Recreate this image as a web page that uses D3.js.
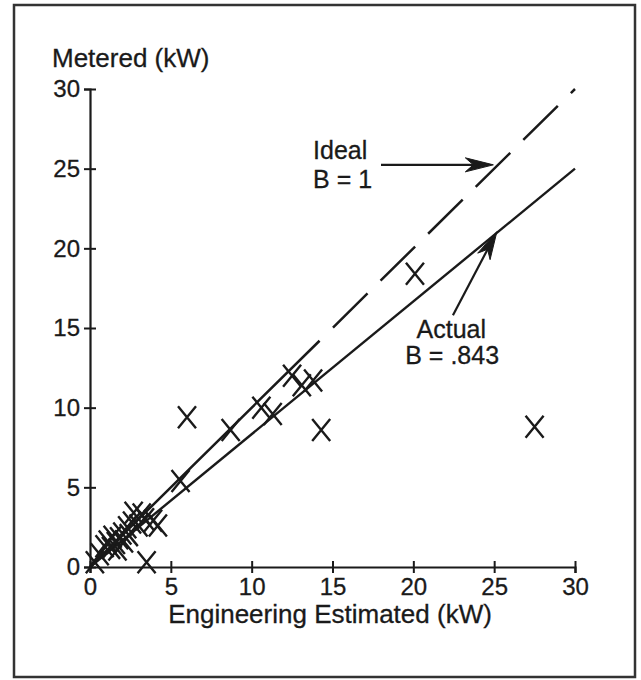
<!DOCTYPE html>
<html>
<head>
<meta charset="utf-8">
<script src="https://cdn.jsdelivr.net/npm/d3@7"></script>
<style>
  body { margin: 0; background: #fff; }
  svg text { font-family: "Liberation Sans", Arial, Helvetica, sans-serif; fill: #1a1a1a; stroke: #1a1a1a; stroke-width: 0.3px; }
</style>
</head>
<body>
<svg id="chart" width="641" height="680"></svg>
<script>
// axis ticks
var xTicks = [0, 5, 10, 15, 20, 25, 30]
var yTicks = [0, 5, 10, 15, 20, 25, 30]

// engineering estimate (kW) vs metered (kW)
var estimated = [
  0.3, 0.6, 0.9, 1.1, 1.3, 1.4, 1.6, 1.7, 1.8, 2.0, 2.1, 2.3, 2.4, 2.6, 2.7,
  3.0, 3.2, 3.4, 3.9, 4.2, 3.5, 5.6, 6.0, 8.7, 10.6, 11.3, 12.5, 13.1, 13.8,
  14.3, 20.1, 27.5
]
var metered = [
  0.3, 0.8, 1.3, 1.6, 1.2, 1.9, 1.5, 1.1, 1.8, 2.1, 1.6, 2.5, 2.0, 2.8, 3.4,
  2.6, 3.3, 3.0, 2.9, 2.6, 0.3, 5.4, 9.4, 8.6, 10.0, 9.6, 12.0, 11.4, 11.7,
  8.6, 18.4, 8.8
]

// fitted lines
var idealLine = [[0, 0], [30, 30]]     // B = 1
var actualLine = [[0, 0], [30, 25.0]]  // B = .843
var idealSolidTo = 14.2   // lower part of the ideal line is drawn solid
var idealDashFrom = 15.03

// annotations (data units)
var labels = [
  { text: 'Ideal', x: 13.8, y: 25.6 },
  { text: 'B = 1', x: 13.8, y: 23.8 },
  { text: 'Actual', x: 20.2, y: 14.4 },
  { text: 'B = .843', x: 19.5, y: 12.75 }
]
var arrows = [
  { from: [18.0, 25.24], to: [24.95, 25.24] },
  { from: [22.45, 15.8], to: [25.17, 21.05] }
]

var ink = '#1a1a1a'
var svg = d3.select('#chart')

// frame
svg.append('rect')
  .attr('x', 14).attr('y', 5).attr('width', 621).attr('height', 672)
  .attr('fill', 'none').attr('stroke', '#333').attr('stroke-width', 2.5)

var x = d3.scaleLinear().domain([0, 30]).range([90, 575])
var y = d3.scaleLinear().domain([0, 30]).range([567, 89])

// x axis
var gx = svg.append('g')
  .attr('transform', `translate(0,${y(0)})`)
  .call(d3.axisBottom(x).tickValues(xTicks).tickSizeOuter(0).tickSize(6).tickPadding(5))
gx.select('.domain').attr('stroke', ink).attr('stroke-width', 2.2)
gx.selectAll('.tick line').attr('y1', -6).attr('stroke', ink).attr('stroke-width', 2)
gx.selectAll('.tick text').attr('font-size', 24).attr('fill', ink)
  .style('font-family', '"Liberation Sans", Arial, sans-serif')

// y axis
var gy = svg.append('g')
  .attr('transform', `translate(${x(0)},0)`)
  .call(d3.axisLeft(y).tickValues(yTicks).tickSizeOuter(0).tickSize(6).tickPadding(4))
gy.select('.domain').attr('stroke', ink).attr('stroke-width', 2.2)
gy.selectAll('.tick line').attr('x1', 6).attr('stroke', ink).attr('stroke-width', 2)
gy.selectAll('.tick text').attr('font-size', 24).attr('fill', ink)
  .style('font-family', '"Liberation Sans", Arial, sans-serif')

// axis titles
svg.append('text')
  .attr('x', 52).attr('y', 67)
  .attr('font-size', 26)
  .text('Metered (kW)')
svg.append('text')
  .attr('x', 330).attr('y', 623)
  .attr('text-anchor', 'middle')
  .attr('font-size', 26)
  .text('Engineering Estimated (kW)')

var line = d3.line().x((d) => x(d[0])).y((d) => y(d[1]))

// actual fit
svg.append('path')
  .attr('d', line(actualLine))
  .attr('fill', 'none').attr('stroke', ink).attr('stroke-width', 2.4)

// ideal line: solid near the origin, long dashes above
var ideal = svg.append('path')
  .attr('d', line(idealLine))
  .attr('fill', 'none').attr('stroke', ink).attr('stroke-width', 2.5)
var unitLen = Math.hypot(x(1) - x(0), y(0) - y(1))
var total = ideal.node().getTotalLength()
var dashes = [idealSolidTo * unitLen, (idealDashFrom - idealSolidTo) * unitLen]
var used = idealDashFrom * unitLen
while (used < total + 70) {
  dashes.push(48.5, 18.3)
  used += 66.8
}
ideal.attr('stroke-dasharray', dashes.join(','))

// data points as X marks
var pts = estimated.map((v, i) => [v, metered[i]])
svg.append('g')
  .selectAll('path')
  .data(pts)
  .enter()
  .append('path')
  .attr('d', (d) => {
    var cx = x(d[0]), cy = y(d[1])
    return `M${cx - 9},${cy - 11}L${cx + 9},${cy + 11}M${cx + 9},${cy - 11}L${cx - 9},${cy + 11}`
  })
  .attr('fill', 'none').attr('stroke', ink).attr('stroke-width', 2.4)

// arrows
arrows.forEach((a) => {
  var x0 = x(a.from[0]), y0 = y(a.from[1])
  var x1 = x(a.to[0]), y1 = y(a.to[1])
  var ang = Math.atan2(y1 - y0, x1 - x0)
  svg.append('line')
    .attr('x1', x0).attr('y1', y0).attr('x2', x1 - 10 * Math.cos(ang)).attr('y2', y1 - 10 * Math.sin(ang))
    .attr('stroke', ink).attr('stroke-width', 2.2)
  var head = [[0, 0], [-28, -7], [-20, 0], [-28, 7]]
    .map((p) => [
      x1 + p[0] * Math.cos(ang) - p[1] * Math.sin(ang),
      y1 + p[0] * Math.sin(ang) + p[1] * Math.cos(ang)
    ])
  svg.append('path')
    .attr('d', 'M' + head.join('L') + 'Z')
    .attr('fill', ink).attr('stroke', ink).attr('stroke-width', 1)
})

// annotation text
svg.append('g')
  .selectAll('text')
  .data(labels)
  .enter()
  .append('text')
  .attr('x', (d) => x(d.x))
  .attr('y', (d) => y(d.y))
  .attr('font-size', 25)
  .text((d) => d.text)
</script>
</body>
</html>
